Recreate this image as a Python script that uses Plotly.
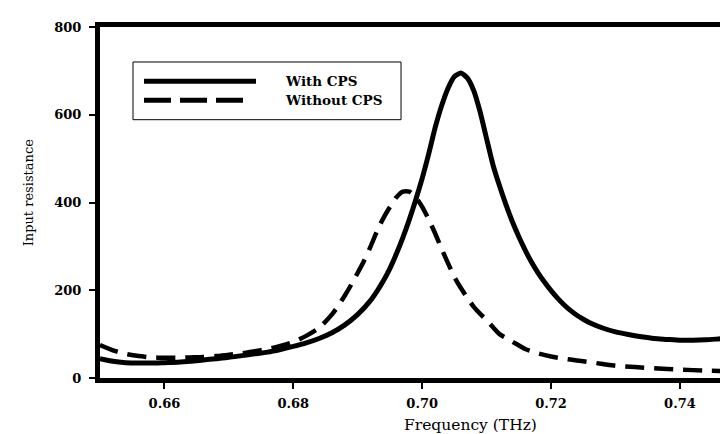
import plotly.graph_objects as go

# ---- data ----
freq_with = [0.650, 0.652, 0.654, 0.656, 0.658, 0.660, 0.662, 0.664, 0.666, 0.668,
             0.670, 0.672, 0.674, 0.676, 0.678, 0.680, 0.682, 0.684, 0.686, 0.688,
             0.690, 0.692, 0.693, 0.694, 0.695, 0.696, 0.697, 0.698, 0.699, 0.700,
             0.701, 0.702, 0.703, 0.704, 0.705, 0.706, 0.707, 0.708, 0.709, 0.710,
             0.711, 0.712, 0.713, 0.714, 0.715, 0.716, 0.717, 0.718, 0.719, 0.720,
             0.721, 0.722, 0.723, 0.724, 0.725, 0.726, 0.728, 0.730, 0.732, 0.734,
             0.736, 0.738, 0.740, 0.742, 0.744, 0.746, 0.748, 0.749]
res_with = [44, 38, 35, 34, 34, 35, 36, 38, 41, 44,
            47, 51, 55, 59, 65, 72, 80, 90, 103, 121,
            145, 177, 198, 222, 250, 283, 320, 361, 406, 455,
            510, 570, 620, 660, 687, 695, 684, 655, 606, 545,
            485, 438, 395, 356, 322, 291, 263, 239, 218, 199,
            182, 167, 154, 143, 134, 126, 114, 105, 99, 94,
            90, 88, 86, 86, 87, 89, 91, 92]

freq_without = [0.650, 0.652, 0.654, 0.656, 0.658, 0.660, 0.662, 0.664, 0.666, 0.668,
                0.670, 0.672, 0.674, 0.676, 0.678, 0.680, 0.682, 0.684, 0.686, 0.687,
                0.688, 0.689, 0.690, 0.691, 0.692, 0.693, 0.694, 0.695, 0.696, 0.697,
                0.698, 0.699, 0.700, 0.701, 0.702, 0.703, 0.704, 0.705, 0.706, 0.707,
                0.708, 0.709, 0.710, 0.712, 0.714, 0.716, 0.718, 0.720, 0.722, 0.724,
                0.726, 0.728, 0.730, 0.733, 0.736, 0.740, 0.744, 0.749]
res_without = [75, 63, 55, 50, 47, 46, 46, 47, 48, 50,
               53, 56, 61, 66, 73, 82, 96, 114, 145, 165,
               188, 213, 240, 268, 300, 335, 365, 390, 412, 425,
               425, 412, 390, 362, 330, 295, 262, 230, 205, 183,
               162, 146, 132, 100, 83, 66, 56, 49, 44, 40,
               36, 32, 28, 25, 22, 19, 17, 15]

x_ticks = [0.66, 0.68, 0.70, 0.72, 0.74]
y_ticks = [0, 200, 400, 600, 800]
series_names = ["With CPS", "Without CPS"]

TICKFONT = dict(family="DejaVu Serif", size=13, color="black", weight="bold")

fig = go.Figure()
fig.add_trace(go.Scatter(x=freq_with, y=res_with, mode="lines", name=series_names[0],
                         line=dict(color="black", width=5, shape="spline", smoothing=0.6)))
fig.add_trace(go.Scatter(x=freq_without, y=res_without, mode="lines", name=series_names[1],
                         line=dict(color="black", width=4.5, dash="19px,10px",
                                   shape="spline", smoothing=0.6)))

# legend drawn as a box with sample lines
fig.add_shape(type="rect", xref="paper", yref="paper", x0=0.0519, x1=0.4733, y0=0.7359, y1=0.9003,
              line=dict(color="black", width=1), fillcolor="white", layer="above")
fig.add_shape(type="line", xref="paper", yref="paper", x0=0.0692, x1=0.2453, y0=0.8453, y1=0.8453,
              line=dict(color="black", width=5))
fig.add_shape(type="line", xref="paper", yref="paper", x0=0.0692, x1=0.2248, y0=0.7912, y1=0.7912,
              line=dict(color="black", width=5, dash="27px,9px"))
for name, yy in zip(series_names, [0.846, 0.792]):
    fig.add_annotation(xref="paper", yref="paper", x=0.2877, y=yy, text=name, showarrow=False,
                       xanchor="left", yanchor="middle",
                       font=dict(family="DejaVu Serif", size=13.5, color="black", weight="bold"))

# axis titles
fig.add_annotation(xref="paper", yref="paper", x=0.582, y=-0.135, text="Frequency (THz)",
                   showarrow=False, xanchor="center", yanchor="middle",
                   font=dict(family="DejaVu Serif", size=15.5, color="black"))
fig.add_annotation(xref="paper", yref="paper", x=-0.111, y=0.53, text="Input resistance",
                   showarrow=False, xanchor="center", yanchor="middle", textangle=-90,
                   font=dict(family="DejaVu Serif", size=13, color="black"))

fig.update_layout(
    width=728, height=434,
    margin=dict(l=92, r=0, t=19, b=64),
    paper_bgcolor="white", plot_bgcolor="white",
    showlegend=False,
)
fig.update_xaxes(range=[0.65, 0.7487], tickvals=x_ticks, ticktext=[f"{v:.2f}" for v in x_ticks],
                 showgrid=False, zeroline=False, showline=True, linecolor="black", linewidth=5,
                 mirror=True, ticks="outside", ticklen=6, tickwidth=1.5, tickcolor="black",
                 tickfont=TICKFONT, ticklabelstandoff=3)
fig.update_yaxes(range=[0, 800], tickvals=y_ticks, showgrid=False, zeroline=False,
                 showline=True, linecolor="black", linewidth=5, ticks="outside", ticklen=6,
                 tickwidth=1.5, tickcolor="black", tickfont=TICKFONT, ticklabelstandoff=5)

fig.write_html("out.html")
